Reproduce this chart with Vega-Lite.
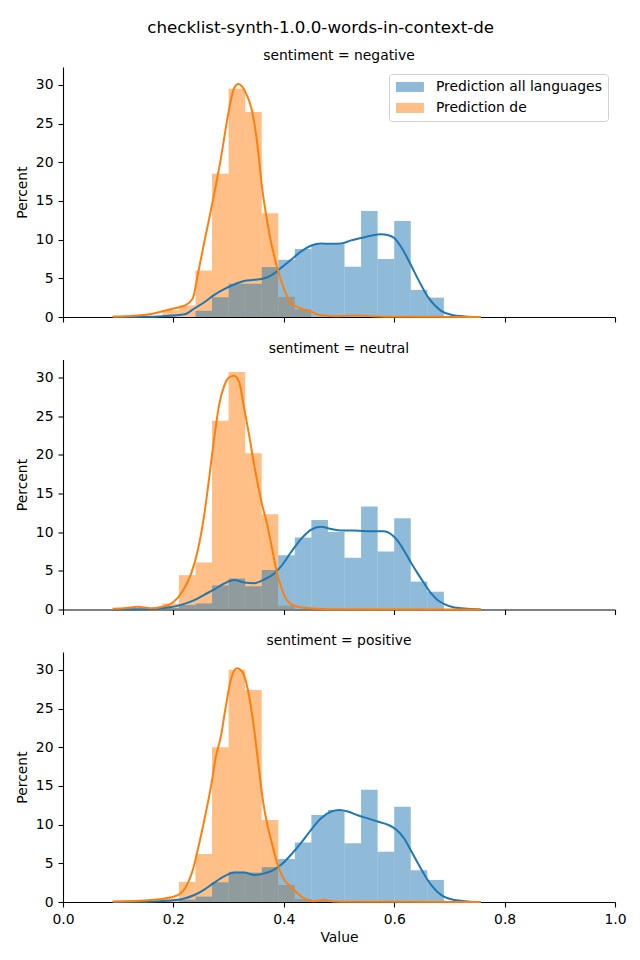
{
  "$schema": "https://vega.github.io/schema/vega-lite/v6.json",
  "padding": {"left": 15, "top": 20, "right": 10, "bottom": 5},
  "title": {"text": "checklist-synth-1.0.0-words-in-context-de", "fontSize": 16.7, "font": "DejaVu Sans", "fontWeight": "normal", "color": "black", "anchor": "middle", "frame": "bounds", "offset": 12},
  "config": {
    "view": {"stroke": null},
    "font": "DejaVu Sans",
    "scale": {"continuousPadding": 0},
    "axis": {"domainColor": "black", "tickColor": "black", "labelColor": "black", "titleColor": "black", "labelFont": "DejaVu Sans", "titleFont": "DejaVu Sans", "labelFontSize": 13.9, "titleFontSize": 13.9, "titleFontWeight": "normal", "tickSize": 5, "grid": false, "domainWidth": 1.1, "tickWidth": 1.1, "labelPadding": 5, "titlePadding": 6, "labelFlush": false},
    "title": {"font": "DejaVu Sans", "fontSize": 13.9, "fontWeight": "normal", "color": "black", "offset": 4},
    "legend": {"labelFont": "DejaVu Sans", "labelFontSize": 13.9, "labelColor": "black", "labelLimit": 400}
  },
  "datasets": {
    "bars": [
      {"sentiment": "negative", "series": "Prediction de", "bin_start": 0.18, "bin_end": 0.21, "percent": 0.9},
      {"sentiment": "negative", "series": "Prediction de", "bin_start": 0.21, "bin_end": 0.24, "percent": 1.5},
      {"sentiment": "negative", "series": "Prediction de", "bin_start": 0.24, "bin_end": 0.27, "percent": 6.0},
      {"sentiment": "negative", "series": "Prediction de", "bin_start": 0.27, "bin_end": 0.30, "percent": 18.5},
      {"sentiment": "negative", "series": "Prediction de", "bin_start": 0.30, "bin_end": 0.33, "percent": 29.5},
      {"sentiment": "negative", "series": "Prediction de", "bin_start": 0.33, "bin_end": 0.36, "percent": 26.5},
      {"sentiment": "negative", "series": "Prediction de", "bin_start": 0.36, "bin_end": 0.39, "percent": 13.4},
      {"sentiment": "negative", "series": "Prediction de", "bin_start": 0.39, "bin_end": 0.42, "percent": 2.6},
      {"sentiment": "negative", "series": "Prediction de", "bin_start": 0.42, "bin_end": 0.45, "percent": 1.0},
      {"sentiment": "negative", "series": "Prediction all languages", "bin_start": 0.24, "bin_end": 0.27, "percent": 0.8},
      {"sentiment": "negative", "series": "Prediction all languages", "bin_start": 0.27, "bin_end": 0.30, "percent": 2.55},
      {"sentiment": "negative", "series": "Prediction all languages", "bin_start": 0.30, "bin_end": 0.33, "percent": 4.3},
      {"sentiment": "negative", "series": "Prediction all languages", "bin_start": 0.33, "bin_end": 0.36, "percent": 4.3},
      {"sentiment": "negative", "series": "Prediction all languages", "bin_start": 0.36, "bin_end": 0.39, "percent": 6.45},
      {"sentiment": "negative", "series": "Prediction all languages", "bin_start": 0.39, "bin_end": 0.42, "percent": 7.4},
      {"sentiment": "negative", "series": "Prediction all languages", "bin_start": 0.42, "bin_end": 0.45, "percent": 8.8},
      {"sentiment": "negative", "series": "Prediction all languages", "bin_start": 0.45, "bin_end": 0.48, "percent": 9.4},
      {"sentiment": "negative", "series": "Prediction all languages", "bin_start": 0.48, "bin_end": 0.51, "percent": 9.4},
      {"sentiment": "negative", "series": "Prediction all languages", "bin_start": 0.51, "bin_end": 0.54, "percent": 6.5},
      {"sentiment": "negative", "series": "Prediction all languages", "bin_start": 0.54, "bin_end": 0.57, "percent": 13.7},
      {"sentiment": "negative", "series": "Prediction all languages", "bin_start": 0.57, "bin_end": 0.60, "percent": 7.5},
      {"sentiment": "negative", "series": "Prediction all languages", "bin_start": 0.60, "bin_end": 0.63, "percent": 12.4},
      {"sentiment": "negative", "series": "Prediction all languages", "bin_start": 0.63, "bin_end": 0.66, "percent": 3.5},
      {"sentiment": "negative", "series": "Prediction all languages", "bin_start": 0.66, "bin_end": 0.69, "percent": 2.5},

      {"sentiment": "neutral", "series": "Prediction de", "bin_start": 0.12, "bin_end": 0.15, "percent": 0.2},
      {"sentiment": "neutral", "series": "Prediction de", "bin_start": 0.18, "bin_end": 0.21, "percent": 0.78},
      {"sentiment": "neutral", "series": "Prediction de", "bin_start": 0.21, "bin_end": 0.24, "percent": 4.44},
      {"sentiment": "neutral", "series": "Prediction de", "bin_start": 0.24, "bin_end": 0.27, "percent": 6.08},
      {"sentiment": "neutral", "series": "Prediction de", "bin_start": 0.27, "bin_end": 0.30, "percent": 24.4},
      {"sentiment": "neutral", "series": "Prediction de", "bin_start": 0.30, "bin_end": 0.33, "percent": 30.7},
      {"sentiment": "neutral", "series": "Prediction de", "bin_start": 0.33, "bin_end": 0.36, "percent": 20.2},
      {"sentiment": "neutral", "series": "Prediction de", "bin_start": 0.36, "bin_end": 0.39, "percent": 12.3},
      {"sentiment": "neutral", "series": "Prediction de", "bin_start": 0.39, "bin_end": 0.42, "percent": 0.5},
      {"sentiment": "neutral", "series": "Prediction all languages", "bin_start": 0.18, "bin_end": 0.21, "percent": 0.2},
      {"sentiment": "neutral", "series": "Prediction all languages", "bin_start": 0.21, "bin_end": 0.24, "percent": 0.6},
      {"sentiment": "neutral", "series": "Prediction all languages", "bin_start": 0.24, "bin_end": 0.27, "percent": 0.78},
      {"sentiment": "neutral", "series": "Prediction all languages", "bin_start": 0.27, "bin_end": 0.30, "percent": 3.1},
      {"sentiment": "neutral", "series": "Prediction all languages", "bin_start": 0.30, "bin_end": 0.33, "percent": 4.0},
      {"sentiment": "neutral", "series": "Prediction all languages", "bin_start": 0.33, "bin_end": 0.36, "percent": 3.0},
      {"sentiment": "neutral", "series": "Prediction all languages", "bin_start": 0.36, "bin_end": 0.39, "percent": 5.1},
      {"sentiment": "neutral", "series": "Prediction all languages", "bin_start": 0.39, "bin_end": 0.42, "percent": 7.0},
      {"sentiment": "neutral", "series": "Prediction all languages", "bin_start": 0.42, "bin_end": 0.45, "percent": 9.3},
      {"sentiment": "neutral", "series": "Prediction all languages", "bin_start": 0.45, "bin_end": 0.48, "percent": 11.55},
      {"sentiment": "neutral", "series": "Prediction all languages", "bin_start": 0.48, "bin_end": 0.51, "percent": 10.0},
      {"sentiment": "neutral", "series": "Prediction all languages", "bin_start": 0.51, "bin_end": 0.54, "percent": 6.7},
      {"sentiment": "neutral", "series": "Prediction all languages", "bin_start": 0.54, "bin_end": 0.57, "percent": 13.3},
      {"sentiment": "neutral", "series": "Prediction all languages", "bin_start": 0.57, "bin_end": 0.60, "percent": 7.5},
      {"sentiment": "neutral", "series": "Prediction all languages", "bin_start": 0.60, "bin_end": 0.63, "percent": 11.8},
      {"sentiment": "neutral", "series": "Prediction all languages", "bin_start": 0.63, "bin_end": 0.66, "percent": 3.6},
      {"sentiment": "neutral", "series": "Prediction all languages", "bin_start": 0.66, "bin_end": 0.69, "percent": 2.3},

      {"sentiment": "positive", "series": "Prediction de", "bin_start": 0.18, "bin_end": 0.21, "percent": 0.45},
      {"sentiment": "positive", "series": "Prediction de", "bin_start": 0.21, "bin_end": 0.24, "percent": 2.6},
      {"sentiment": "positive", "series": "Prediction de", "bin_start": 0.24, "bin_end": 0.27, "percent": 6.2},
      {"sentiment": "positive", "series": "Prediction de", "bin_start": 0.27, "bin_end": 0.30, "percent": 20.0},
      {"sentiment": "positive", "series": "Prediction de", "bin_start": 0.30, "bin_end": 0.33, "percent": 30.0},
      {"sentiment": "positive", "series": "Prediction de", "bin_start": 0.33, "bin_end": 0.36, "percent": 27.4},
      {"sentiment": "positive", "series": "Prediction de", "bin_start": 0.36, "bin_end": 0.39, "percent": 10.6},
      {"sentiment": "positive", "series": "Prediction de", "bin_start": 0.39, "bin_end": 0.42, "percent": 2.2},
      {"sentiment": "positive", "series": "Prediction de", "bin_start": 0.42, "bin_end": 0.45, "percent": 0.4},
      {"sentiment": "positive", "series": "Prediction de", "bin_start": 0.45, "bin_end": 0.48, "percent": 0.2},
      {"sentiment": "positive", "series": "Prediction all languages", "bin_start": 0.21, "bin_end": 0.24, "percent": 0.3},
      {"sentiment": "positive", "series": "Prediction all languages", "bin_start": 0.24, "bin_end": 0.27, "percent": 0.7},
      {"sentiment": "positive", "series": "Prediction all languages", "bin_start": 0.27, "bin_end": 0.30, "percent": 2.55},
      {"sentiment": "positive", "series": "Prediction all languages", "bin_start": 0.30, "bin_end": 0.33, "percent": 3.9},
      {"sentiment": "positive", "series": "Prediction all languages", "bin_start": 0.33, "bin_end": 0.36, "percent": 3.8},
      {"sentiment": "positive", "series": "Prediction all languages", "bin_start": 0.36, "bin_end": 0.39, "percent": 4.5},
      {"sentiment": "positive", "series": "Prediction all languages", "bin_start": 0.39, "bin_end": 0.42, "percent": 5.56},
      {"sentiment": "positive", "series": "Prediction all languages", "bin_start": 0.42, "bin_end": 0.45, "percent": 7.7},
      {"sentiment": "positive", "series": "Prediction all languages", "bin_start": 0.45, "bin_end": 0.48, "percent": 11.25},
      {"sentiment": "positive", "series": "Prediction all languages", "bin_start": 0.48, "bin_end": 0.51, "percent": 11.9},
      {"sentiment": "positive", "series": "Prediction all languages", "bin_start": 0.51, "bin_end": 0.54, "percent": 7.6},
      {"sentiment": "positive", "series": "Prediction all languages", "bin_start": 0.54, "bin_end": 0.57, "percent": 14.5},
      {"sentiment": "positive", "series": "Prediction all languages", "bin_start": 0.57, "bin_end": 0.60, "percent": 6.5},
      {"sentiment": "positive", "series": "Prediction all languages", "bin_start": 0.60, "bin_end": 0.63, "percent": 12.3},
      {"sentiment": "positive", "series": "Prediction all languages", "bin_start": 0.63, "bin_end": 0.66, "percent": 4.1},
      {"sentiment": "positive", "series": "Prediction all languages", "bin_start": 0.66, "bin_end": 0.69, "percent": 2.85}
    ],
    "kde": [
      {"sentiment": "negative", "series": "Prediction all languages", "x": 0.09, "y": 0},
      {"sentiment": "negative", "series": "Prediction all languages", "x": 0.15, "y": 0.02},
      {"sentiment": "negative", "series": "Prediction all languages", "x": 0.18, "y": 0.1},
      {"sentiment": "negative", "series": "Prediction all languages", "x": 0.22, "y": 0.35},
      {"sentiment": "negative", "series": "Prediction all languages", "x": 0.238, "y": 1.1},
      {"sentiment": "negative", "series": "Prediction all languages", "x": 0.256, "y": 1.9},
      {"sentiment": "negative", "series": "Prediction all languages", "x": 0.274, "y": 2.85},
      {"sentiment": "negative", "series": "Prediction all languages", "x": 0.292, "y": 3.6},
      {"sentiment": "negative", "series": "Prediction all languages", "x": 0.31, "y": 4.2},
      {"sentiment": "negative", "series": "Prediction all languages", "x": 0.328, "y": 4.65},
      {"sentiment": "negative", "series": "Prediction all languages", "x": 0.347, "y": 4.8},
      {"sentiment": "negative", "series": "Prediction all languages", "x": 0.365, "y": 5.0},
      {"sentiment": "negative", "series": "Prediction all languages", "x": 0.38, "y": 5.5},
      {"sentiment": "negative", "series": "Prediction all languages", "x": 0.395, "y": 6.35},
      {"sentiment": "negative", "series": "Prediction all languages", "x": 0.413, "y": 7.4},
      {"sentiment": "negative", "series": "Prediction all languages", "x": 0.431, "y": 8.45},
      {"sentiment": "negative", "series": "Prediction all languages", "x": 0.449, "y": 9.2},
      {"sentiment": "negative", "series": "Prediction all languages", "x": 0.467, "y": 9.5},
      {"sentiment": "negative", "series": "Prediction all languages", "x": 0.486, "y": 9.45},
      {"sentiment": "negative", "series": "Prediction all languages", "x": 0.504, "y": 9.5},
      {"sentiment": "negative", "series": "Prediction all languages", "x": 0.522, "y": 9.9},
      {"sentiment": "negative", "series": "Prediction all languages", "x": 0.54, "y": 10.2},
      {"sentiment": "negative", "series": "Prediction all languages", "x": 0.558, "y": 10.5},
      {"sentiment": "negative", "series": "Prediction all languages", "x": 0.576, "y": 10.7},
      {"sentiment": "negative", "series": "Prediction all languages", "x": 0.588, "y": 10.6},
      {"sentiment": "negative", "series": "Prediction all languages", "x": 0.6, "y": 10.2},
      {"sentiment": "negative", "series": "Prediction all languages", "x": 0.612, "y": 9.1},
      {"sentiment": "negative", "series": "Prediction all languages", "x": 0.624, "y": 7.6},
      {"sentiment": "negative", "series": "Prediction all languages", "x": 0.636, "y": 5.9},
      {"sentiment": "negative", "series": "Prediction all languages", "x": 0.649, "y": 4.1},
      {"sentiment": "negative", "series": "Prediction all languages", "x": 0.661, "y": 2.6},
      {"sentiment": "negative", "series": "Prediction all languages", "x": 0.673, "y": 1.55},
      {"sentiment": "negative", "series": "Prediction all languages", "x": 0.685, "y": 0.8},
      {"sentiment": "negative", "series": "Prediction all languages", "x": 0.703, "y": 0.3},
      {"sentiment": "negative", "series": "Prediction all languages", "x": 0.727, "y": 0.08},
      {"sentiment": "negative", "series": "Prediction all languages", "x": 0.757, "y": 0},

      {"sentiment": "negative", "series": "Prediction de", "x": 0.09, "y": 0.05},
      {"sentiment": "negative", "series": "Prediction de", "x": 0.13, "y": 0.15},
      {"sentiment": "negative", "series": "Prediction de", "x": 0.16, "y": 0.4},
      {"sentiment": "negative", "series": "Prediction de", "x": 0.179, "y": 0.7},
      {"sentiment": "negative", "series": "Prediction de", "x": 0.2, "y": 1.1},
      {"sentiment": "negative", "series": "Prediction de", "x": 0.22, "y": 1.46},
      {"sentiment": "negative", "series": "Prediction de", "x": 0.235, "y": 2.4},
      {"sentiment": "negative", "series": "Prediction de", "x": 0.244, "y": 5.4},
      {"sentiment": "negative", "series": "Prediction de", "x": 0.256, "y": 9.7},
      {"sentiment": "negative", "series": "Prediction de", "x": 0.27, "y": 14.5},
      {"sentiment": "negative", "series": "Prediction de", "x": 0.286, "y": 20.5},
      {"sentiment": "negative", "series": "Prediction de", "x": 0.3, "y": 26.5},
      {"sentiment": "negative", "series": "Prediction de", "x": 0.31, "y": 29.6},
      {"sentiment": "negative", "series": "Prediction de", "x": 0.318, "y": 30.1},
      {"sentiment": "negative", "series": "Prediction de", "x": 0.33, "y": 29.1},
      {"sentiment": "negative", "series": "Prediction de", "x": 0.344, "y": 26.1},
      {"sentiment": "negative", "series": "Prediction de", "x": 0.353, "y": 21.8},
      {"sentiment": "negative", "series": "Prediction de", "x": 0.36, "y": 17.1},
      {"sentiment": "negative", "series": "Prediction de", "x": 0.371, "y": 11.9},
      {"sentiment": "negative", "series": "Prediction de", "x": 0.377, "y": 9.6},
      {"sentiment": "negative", "series": "Prediction de", "x": 0.383, "y": 7.8},
      {"sentiment": "negative", "series": "Prediction de", "x": 0.389, "y": 6.1},
      {"sentiment": "negative", "series": "Prediction de", "x": 0.401, "y": 3.5},
      {"sentiment": "negative", "series": "Prediction de", "x": 0.413, "y": 1.77},
      {"sentiment": "negative", "series": "Prediction de", "x": 0.431, "y": 1.12},
      {"sentiment": "negative", "series": "Prediction de", "x": 0.449, "y": 0.69},
      {"sentiment": "negative", "series": "Prediction de", "x": 0.467, "y": 0.22},
      {"sentiment": "negative", "series": "Prediction de", "x": 0.497, "y": 0.1},
      {"sentiment": "negative", "series": "Prediction de", "x": 0.534, "y": 0.2},
      {"sentiment": "negative", "series": "Prediction de", "x": 0.56, "y": 0.1},
      {"sentiment": "negative", "series": "Prediction de", "x": 0.6, "y": 0.02},
      {"sentiment": "negative", "series": "Prediction de", "x": 0.757, "y": 0},

      {"sentiment": "neutral", "series": "Prediction all languages", "x": 0.09, "y": 0},
      {"sentiment": "neutral", "series": "Prediction all languages", "x": 0.15, "y": 0.03},
      {"sentiment": "neutral", "series": "Prediction all languages", "x": 0.19, "y": 0.25},
      {"sentiment": "neutral", "series": "Prediction all languages", "x": 0.214, "y": 0.6},
      {"sentiment": "neutral", "series": "Prediction all languages", "x": 0.238, "y": 1.2},
      {"sentiment": "neutral", "series": "Prediction all languages", "x": 0.256, "y": 1.9},
      {"sentiment": "neutral", "series": "Prediction all languages", "x": 0.274, "y": 2.6},
      {"sentiment": "neutral", "series": "Prediction all languages", "x": 0.292, "y": 3.36},
      {"sentiment": "neutral", "series": "Prediction all languages", "x": 0.31, "y": 3.8},
      {"sentiment": "neutral", "series": "Prediction all languages", "x": 0.328, "y": 3.5},
      {"sentiment": "neutral", "series": "Prediction all languages", "x": 0.347, "y": 3.4},
      {"sentiment": "neutral", "series": "Prediction all languages", "x": 0.365, "y": 3.9},
      {"sentiment": "neutral", "series": "Prediction all languages", "x": 0.38, "y": 4.5},
      {"sentiment": "neutral", "series": "Prediction all languages", "x": 0.395, "y": 5.56},
      {"sentiment": "neutral", "series": "Prediction all languages", "x": 0.413, "y": 7.4},
      {"sentiment": "neutral", "series": "Prediction all languages", "x": 0.431, "y": 9.1},
      {"sentiment": "neutral", "series": "Prediction all languages", "x": 0.449, "y": 10.3},
      {"sentiment": "neutral", "series": "Prediction all languages", "x": 0.467, "y": 10.7},
      {"sentiment": "neutral", "series": "Prediction all languages", "x": 0.486, "y": 10.4},
      {"sentiment": "neutral", "series": "Prediction all languages", "x": 0.504, "y": 10.2},
      {"sentiment": "neutral", "series": "Prediction all languages", "x": 0.528, "y": 10.2},
      {"sentiment": "neutral", "series": "Prediction all languages", "x": 0.558, "y": 10.1},
      {"sentiment": "neutral", "series": "Prediction all languages", "x": 0.582, "y": 10.1},
      {"sentiment": "neutral", "series": "Prediction all languages", "x": 0.594, "y": 9.75},
      {"sentiment": "neutral", "series": "Prediction all languages", "x": 0.606, "y": 8.9},
      {"sentiment": "neutral", "series": "Prediction all languages", "x": 0.618, "y": 7.6},
      {"sentiment": "neutral", "series": "Prediction all languages", "x": 0.63, "y": 6.1},
      {"sentiment": "neutral", "series": "Prediction all languages", "x": 0.643, "y": 4.6},
      {"sentiment": "neutral", "series": "Prediction all languages", "x": 0.655, "y": 3.3},
      {"sentiment": "neutral", "series": "Prediction all languages", "x": 0.667, "y": 2.07},
      {"sentiment": "neutral", "series": "Prediction all languages", "x": 0.679, "y": 1.2},
      {"sentiment": "neutral", "series": "Prediction all languages", "x": 0.691, "y": 0.7},
      {"sentiment": "neutral", "series": "Prediction all languages", "x": 0.709, "y": 0.26},
      {"sentiment": "neutral", "series": "Prediction all languages", "x": 0.733, "y": 0.1},
      {"sentiment": "neutral", "series": "Prediction all languages", "x": 0.757, "y": 0},

      {"sentiment": "neutral", "series": "Prediction de", "x": 0.09, "y": 0.1},
      {"sentiment": "neutral", "series": "Prediction de", "x": 0.115, "y": 0.2},
      {"sentiment": "neutral", "series": "Prediction de", "x": 0.135, "y": 0.35},
      {"sentiment": "neutral", "series": "Prediction de", "x": 0.159, "y": 0.15},
      {"sentiment": "neutral", "series": "Prediction de", "x": 0.18, "y": 0.35},
      {"sentiment": "neutral", "series": "Prediction de", "x": 0.199, "y": 0.9},
      {"sentiment": "neutral", "series": "Prediction de", "x": 0.217, "y": 2.4},
      {"sentiment": "neutral", "series": "Prediction de", "x": 0.232, "y": 4.6},
      {"sentiment": "neutral", "series": "Prediction de", "x": 0.244, "y": 7.6},
      {"sentiment": "neutral", "series": "Prediction de", "x": 0.256, "y": 12.3},
      {"sentiment": "neutral", "series": "Prediction de", "x": 0.265, "y": 17.1},
      {"sentiment": "neutral", "series": "Prediction de", "x": 0.274, "y": 22.2},
      {"sentiment": "neutral", "series": "Prediction de", "x": 0.283, "y": 26.5},
      {"sentiment": "neutral", "series": "Prediction de", "x": 0.292, "y": 28.9},
      {"sentiment": "neutral", "series": "Prediction de", "x": 0.301, "y": 30.0},
      {"sentiment": "neutral", "series": "Prediction de", "x": 0.31, "y": 30.2},
      {"sentiment": "neutral", "series": "Prediction de", "x": 0.319, "y": 29.4},
      {"sentiment": "neutral", "series": "Prediction de", "x": 0.328, "y": 26.1},
      {"sentiment": "neutral", "series": "Prediction de", "x": 0.338, "y": 22.2},
      {"sentiment": "neutral", "series": "Prediction de", "x": 0.347, "y": 18.4},
      {"sentiment": "neutral", "series": "Prediction de", "x": 0.359, "y": 14.1},
      {"sentiment": "neutral", "series": "Prediction de", "x": 0.371, "y": 10.6},
      {"sentiment": "neutral", "series": "Prediction de", "x": 0.377, "y": 8.5},
      {"sentiment": "neutral", "series": "Prediction de", "x": 0.383, "y": 6.3},
      {"sentiment": "neutral", "series": "Prediction de", "x": 0.389, "y": 4.35},
      {"sentiment": "neutral", "series": "Prediction de", "x": 0.395, "y": 3.0},
      {"sentiment": "neutral", "series": "Prediction de", "x": 0.401, "y": 1.77},
      {"sentiment": "neutral", "series": "Prediction de", "x": 0.413, "y": 0.7},
      {"sentiment": "neutral", "series": "Prediction de", "x": 0.431, "y": 0.25},
      {"sentiment": "neutral", "series": "Prediction de", "x": 0.46, "y": 0.1},
      {"sentiment": "neutral", "series": "Prediction de", "x": 0.5, "y": 0.02},
      {"sentiment": "neutral", "series": "Prediction de", "x": 0.757, "y": 0},

      {"sentiment": "positive", "series": "Prediction all languages", "x": 0.09, "y": 0},
      {"sentiment": "positive", "series": "Prediction all languages", "x": 0.15, "y": 0.03},
      {"sentiment": "positive", "series": "Prediction all languages", "x": 0.19, "y": 0.15},
      {"sentiment": "positive", "series": "Prediction all languages", "x": 0.22, "y": 0.45},
      {"sentiment": "positive", "series": "Prediction all languages", "x": 0.238, "y": 0.9},
      {"sentiment": "positive", "series": "Prediction all languages", "x": 0.256, "y": 1.6},
      {"sentiment": "positive", "series": "Prediction all languages", "x": 0.274, "y": 2.5},
      {"sentiment": "positive", "series": "Prediction all languages", "x": 0.292, "y": 3.3},
      {"sentiment": "positive", "series": "Prediction all languages", "x": 0.31, "y": 3.8},
      {"sentiment": "positive", "series": "Prediction all languages", "x": 0.328, "y": 3.8},
      {"sentiment": "positive", "series": "Prediction all languages", "x": 0.347, "y": 3.5},
      {"sentiment": "positive", "series": "Prediction all languages", "x": 0.365, "y": 3.7},
      {"sentiment": "positive", "series": "Prediction all languages", "x": 0.38, "y": 4.1},
      {"sentiment": "positive", "series": "Prediction all languages", "x": 0.395, "y": 4.8},
      {"sentiment": "positive", "series": "Prediction all languages", "x": 0.413, "y": 6.1},
      {"sentiment": "positive", "series": "Prediction all languages", "x": 0.431, "y": 7.6},
      {"sentiment": "positive", "series": "Prediction all languages", "x": 0.449, "y": 9.3},
      {"sentiment": "positive", "series": "Prediction all languages", "x": 0.467, "y": 10.8},
      {"sentiment": "positive", "series": "Prediction all languages", "x": 0.486, "y": 11.7},
      {"sentiment": "positive", "series": "Prediction all languages", "x": 0.501, "y": 11.9},
      {"sentiment": "positive", "series": "Prediction all languages", "x": 0.516, "y": 11.7},
      {"sentiment": "positive", "series": "Prediction all languages", "x": 0.534, "y": 11.2},
      {"sentiment": "positive", "series": "Prediction all languages", "x": 0.552, "y": 10.8},
      {"sentiment": "positive", "series": "Prediction all languages", "x": 0.57, "y": 10.4},
      {"sentiment": "positive", "series": "Prediction all languages", "x": 0.588, "y": 10.0},
      {"sentiment": "positive", "series": "Prediction all languages", "x": 0.603, "y": 9.4},
      {"sentiment": "positive", "series": "Prediction all languages", "x": 0.618, "y": 8.2},
      {"sentiment": "positive", "series": "Prediction all languages", "x": 0.63, "y": 6.7},
      {"sentiment": "positive", "series": "Prediction all languages", "x": 0.643, "y": 5.0},
      {"sentiment": "positive", "series": "Prediction all languages", "x": 0.655, "y": 3.5},
      {"sentiment": "positive", "series": "Prediction all languages", "x": 0.667, "y": 2.2},
      {"sentiment": "positive", "series": "Prediction all languages", "x": 0.679, "y": 1.25},
      {"sentiment": "positive", "series": "Prediction all languages", "x": 0.691, "y": 0.65},
      {"sentiment": "positive", "series": "Prediction all languages", "x": 0.709, "y": 0.25},
      {"sentiment": "positive", "series": "Prediction all languages", "x": 0.733, "y": 0.08},
      {"sentiment": "positive", "series": "Prediction all languages", "x": 0.757, "y": 0},

      {"sentiment": "positive", "series": "Prediction de", "x": 0.09, "y": 0.05},
      {"sentiment": "positive", "series": "Prediction de", "x": 0.159, "y": 0.25},
      {"sentiment": "positive", "series": "Prediction de", "x": 0.184, "y": 0.45},
      {"sentiment": "positive", "series": "Prediction de", "x": 0.208, "y": 0.9},
      {"sentiment": "positive", "series": "Prediction de", "x": 0.223, "y": 2.0},
      {"sentiment": "positive", "series": "Prediction de", "x": 0.235, "y": 4.1},
      {"sentiment": "positive", "series": "Prediction de", "x": 0.244, "y": 6.7},
      {"sentiment": "positive", "series": "Prediction de", "x": 0.256, "y": 10.6},
      {"sentiment": "positive", "series": "Prediction de", "x": 0.268, "y": 14.9},
      {"sentiment": "positive", "series": "Prediction de", "x": 0.277, "y": 18.8},
      {"sentiment": "positive", "series": "Prediction de", "x": 0.286, "y": 21.4},
      {"sentiment": "positive", "series": "Prediction de", "x": 0.295, "y": 25.3},
      {"sentiment": "positive", "series": "Prediction de", "x": 0.304, "y": 28.7},
      {"sentiment": "positive", "series": "Prediction de", "x": 0.315, "y": 30.2},
      {"sentiment": "positive", "series": "Prediction de", "x": 0.326, "y": 29.6},
      {"sentiment": "positive", "series": "Prediction de", "x": 0.335, "y": 27.4},
      {"sentiment": "positive", "series": "Prediction de", "x": 0.344, "y": 23.5},
      {"sentiment": "positive", "series": "Prediction de", "x": 0.353, "y": 18.4},
      {"sentiment": "positive", "series": "Prediction de", "x": 0.362, "y": 13.2},
      {"sentiment": "positive", "series": "Prediction de", "x": 0.371, "y": 9.7},
      {"sentiment": "positive", "series": "Prediction de", "x": 0.377, "y": 8.0},
      {"sentiment": "positive", "series": "Prediction de", "x": 0.383, "y": 6.3},
      {"sentiment": "positive", "series": "Prediction de", "x": 0.389, "y": 4.8},
      {"sentiment": "positive", "series": "Prediction de", "x": 0.395, "y": 3.7},
      {"sentiment": "positive", "series": "Prediction de", "x": 0.401, "y": 2.85},
      {"sentiment": "positive", "series": "Prediction de", "x": 0.413, "y": 2.0},
      {"sentiment": "positive", "series": "Prediction de", "x": 0.425, "y": 1.1},
      {"sentiment": "positive", "series": "Prediction de", "x": 0.437, "y": 0.45},
      {"sentiment": "positive", "series": "Prediction de", "x": 0.455, "y": 0.1},
      {"sentiment": "positive", "series": "Prediction de", "x": 0.473, "y": 0.3},
      {"sentiment": "positive", "series": "Prediction de", "x": 0.49, "y": 0.05},
      {"sentiment": "positive", "series": "Prediction de", "x": 0.52, "y": 0.02},
      {"sentiment": "positive", "series": "Prediction de", "x": 0.757, "y": 0}
    ]
  },
  "vconcat": [
    {
      "width": 552, "height": 250,
      "title": {"text": "sentiment = negative"},
      "layer": [
        {
          "data": {"name": "bars"},
          "transform": [{"filter": "datum.sentiment === 'negative'"}],
          "mark": {"type": "rect", "opacity": 0.5},
          "encoding": {
            "x": {"field": "bin_start", "type": "quantitative", "scale": {"domain": [0, 1], "nice": false, "padding": 0}, "axis": {"values": [0, 0.2, 0.4, 0.6, 0.8, 1.0], "labels": false, "title": null}},
            "x2": {"field": "bin_end"},
            "y": {"field": "percent", "type": "quantitative", "scale": {"domain": [0, 32.3], "nice": false, "padding": 0}, "axis": {"values": [0, 5, 10, 15, 20, 25, 30], "title": "Percent"}},
            "y2": {"datum": 0},
            "color": {"field": "series", "type": "nominal", "scale": {"domain": ["Prediction all languages", "Prediction de"], "range": ["#1f77b4", "#ff7f0e"]},
              "legend": {"orient": "top-right", "offset": 7, "title": null, "symbolType": "M-2.8,-1H2.8V1H-2.8Z", "symbolSize": 100, "symbolOffset": 8, "symbolOpacity": 0.5, "symbolStrokeWidth": 0, "strokeColor": "#d0d0d0", "cornerRadius": 3, "padding": 6, "rowPadding": 6, "labelOffset": 19, "fillColor": "white", "labelFontSize": 13.9, "labelColor": "black", "labelLimit": 400}}
          }
        },
        {
          "data": {"name": "kde"},
          "transform": [{"filter": "datum.sentiment === 'negative'"}],
          "mark": {"type": "line", "strokeWidth": 2, "interpolate": "monotone"},
          "encoding": {
            "x": {"field": "x", "type": "quantitative"},
            "y": {"field": "y", "type": "quantitative"},
            "color": {"field": "series", "type": "nominal", "legend": null},
            "order": {"field": "x", "type": "quantitative"}
          }
        }
      ]
    },
    {
      "width": 552, "height": 250,
      "title": {"text": "sentiment = neutral"},
      "layer": [
        {
          "data": {"name": "bars"},
          "transform": [{"filter": "datum.sentiment === 'neutral'"}],
          "mark": {"type": "rect", "opacity": 0.5},
          "encoding": {
            "x": {"field": "bin_start", "type": "quantitative", "scale": {"domain": [0, 1], "nice": false, "padding": 0}, "axis": {"values": [0, 0.2, 0.4, 0.6, 0.8, 1.0], "labels": false, "title": null}},
            "x2": {"field": "bin_end"},
            "y": {"field": "percent", "type": "quantitative", "scale": {"domain": [0, 32.3], "nice": false, "padding": 0}, "axis": {"values": [0, 5, 10, 15, 20, 25, 30], "title": "Percent"}},
            "y2": {"datum": 0},
            "color": {"field": "series", "type": "nominal", "scale": {"domain": ["Prediction all languages", "Prediction de"], "range": ["#1f77b4", "#ff7f0e"]}, "legend": null}
          }
        },
        {
          "data": {"name": "kde"},
          "transform": [{"filter": "datum.sentiment === 'neutral'"}],
          "mark": {"type": "line", "strokeWidth": 2, "interpolate": "monotone"},
          "encoding": {
            "x": {"field": "x", "type": "quantitative"},
            "y": {"field": "y", "type": "quantitative"},
            "color": {"field": "series", "type": "nominal", "legend": null},
            "order": {"field": "x", "type": "quantitative"}
          }
        }
      ]
    },
    {
      "width": 552, "height": 250,
      "title": {"text": "sentiment = positive"},
      "layer": [
        {
          "data": {"name": "bars"},
          "transform": [{"filter": "datum.sentiment === 'positive'"}],
          "mark": {"type": "rect", "opacity": 0.5},
          "encoding": {
            "x": {"field": "bin_start", "type": "quantitative", "scale": {"domain": [0, 1], "nice": false, "padding": 0}, "axis": {"values": [0, 0.2, 0.4, 0.6, 0.8, 1.0], "format": ".1f", "title": "Value", "titlePadding": 5}},
            "x2": {"field": "bin_end"},
            "y": {"field": "percent", "type": "quantitative", "scale": {"domain": [0, 32.3], "nice": false, "padding": 0}, "axis": {"values": [0, 5, 10, 15, 20, 25, 30], "title": "Percent"}},
            "y2": {"datum": 0},
            "color": {"field": "series", "type": "nominal", "scale": {"domain": ["Prediction all languages", "Prediction de"], "range": ["#1f77b4", "#ff7f0e"]}, "legend": null}
          }
        },
        {
          "data": {"name": "kde"},
          "transform": [{"filter": "datum.sentiment === 'positive'"}],
          "mark": {"type": "line", "strokeWidth": 2, "interpolate": "monotone"},
          "encoding": {
            "x": {"field": "x", "type": "quantitative"},
            "y": {"field": "y", "type": "quantitative"},
            "color": {"field": "series", "type": "nominal", "legend": null},
            "order": {"field": "x", "type": "quantitative"}
          }
        }
      ]
    }
  ],
  "spacing": 42.5,
  "bounds": "flush",
  "resolve": {"legend": {"color": "independent"}}
}
